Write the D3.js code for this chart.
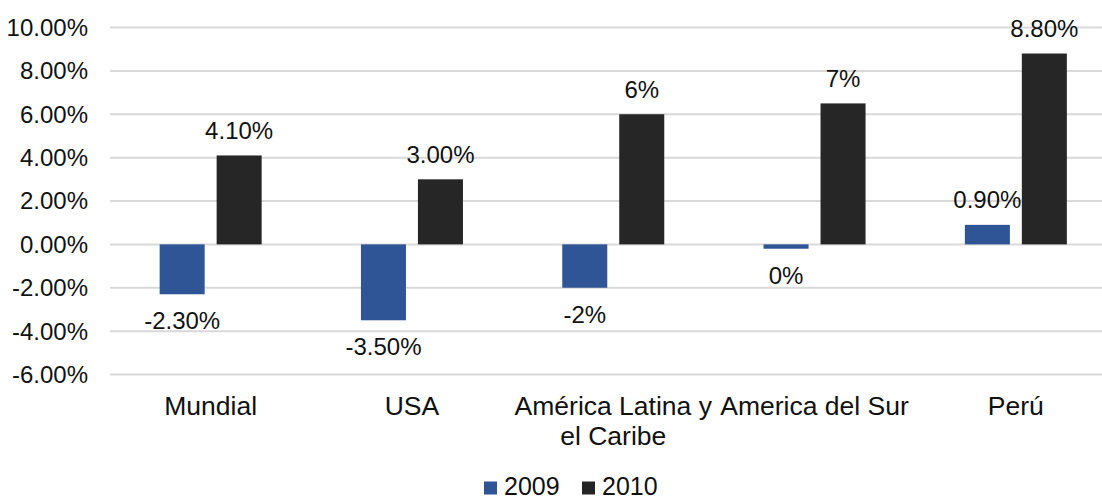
<!DOCTYPE html>
<html>
<head>
<meta charset="utf-8">
<script src="https://cdn.jsdelivr.net/npm/d3@7"></script>
<style>
  html, body { margin: 0; padding: 0; background: #fff; }
  svg { display: block; font-family: "Liberation Sans", Arial, sans-serif; }
</style>
</head>
<body>
<svg id="chart" width="1102" height="500"></svg>
<script>
// Growth rates (%) by region, 2009 vs 2010
const categories = ["Mundial", "USA", "América Latina y el Caribe", "America del Sur", "Perú"];
const categoryLines = [["Mundial"], ["USA"], ["América Latina y", "el Caribe"], ["America del Sur"], ["Perú"]];
const seriesNames = ["2009", "2010"];
const values2009 = [-2.3, -3.5, -2.0, -0.2, 0.9];
const values2010 = [4.1, 3.0, 6.0, 6.5, 8.8];
// decimals shown in each data label
const decimals2009 = [2, 2, 0, 0, 2];
const decimals2010 = [2, 2, 0, 0, 2];
const yTicks = [-6, -4, -2, 0, 2, 4, 6, 8, 10];
const seriesColors = ["#2f5597", "#262626"];

const svg = d3.select("#chart");
const margin = { left: 110, right: -14.5, top: 27.5, bottom: 125.5 };
const W = 1102, H = 500;

const x0 = d3.scaleBand().domain(categories).range([margin.left, W - margin.right]).padding(0);
const x1 = d3.scaleBand().domain(seriesNames).range([-51, 51]).paddingInner(0.21).paddingOuter(0);
const y = d3.scaleLinear().domain([-6, 10]).range([H - margin.bottom, margin.top]);

const fmt = (v, d) => {
  let s = v.toFixed(d);
  if (parseFloat(s) === 0) s = (0).toFixed(d);
  return s + "%";
};

// gridlines
svg.append("g").selectAll("line").data(yTicks).join("line")
  .attr("x1", margin.left).attr("x2", W - margin.right)
  .attr("y1", d => y(d)).attr("y2", d => y(d))
  .attr("stroke", "#d9d9d9").attr("stroke-width", 2);

// y-axis labels
svg.append("g").selectAll("text").data(yTicks).join("text")
  .attr("x", 88).attr("y", d => y(d)).attr("dy", "0.35em")
  .attr("text-anchor", "end").attr("font-size", 24).attr("fill", "#111")
  .text(d => d.toFixed(2) + "%");

const rows = categories.map((c, i) => ({
  cat: c,
  vals: [
    { s: seriesNames[0], v: values2009[i], d: decimals2009[i], color: seriesColors[0] },
    { s: seriesNames[1], v: values2010[i], d: decimals2010[i], color: seriesColors[1] }
  ]
}));

const groups = svg.append("g").selectAll("g").data(rows).join("g")
  .attr("transform", d => `translate(${x0(d.cat) + x0.bandwidth() / 2},0)`);

groups.selectAll("rect").data(d => d.vals).join("rect")
  .attr("x", d => x1(d.s))
  .attr("width", x1.bandwidth())
  .attr("y", d => y(Math.max(0, d.v)))
  .attr("height", d => Math.abs(y(d.v) - y(0)))
  .attr("fill", d => d.color);

groups.selectAll("text.lbl").data(d => d.vals).join("text")
  .attr("class", "lbl")
  .attr("x", d => x1(d.s) + x1.bandwidth() / 2)
  .attr("y", d => d.v >= 0 ? y(d.v) - 16.5 : y(d.v) + 35)
  .attr("text-anchor", "middle").attr("font-size", 24).attr("fill", "#111")
  .text(d => fmt(d.v, d.d));

// category labels
const catText = svg.append("g").selectAll("text").data(categories).join("text")
  .attr("x", d => x0(d) + x0.bandwidth() / 2)
  .attr("y", 415)
  .attr("text-anchor", "middle").attr("font-size", 26.5).attr("fill", "#111");
catText.selectAll("tspan").data((d, i) => categoryLines[i]).join("tspan")
  .attr("x", function () { return this.parentNode.getAttribute("x"); })
  .attr("dy", (d, i) => i === 0 ? 0 : 30)
  .text(d => d);

// legend
const legend = svg.append("g");
const legendX = [484, 582];
seriesNames.forEach((s, i) => {
  legend.append("rect").attr("x", legendX[i]).attr("y", 481.5).attr("width", 13).attr("height", 13)
    .attr("fill", seriesColors[i]);
  legend.append("text").attr("x", legendX[i] + 20).attr("y", 495)
    .attr("font-size", 25).attr("fill", "#111").text(s);
});
</script>
</body>
</html>
